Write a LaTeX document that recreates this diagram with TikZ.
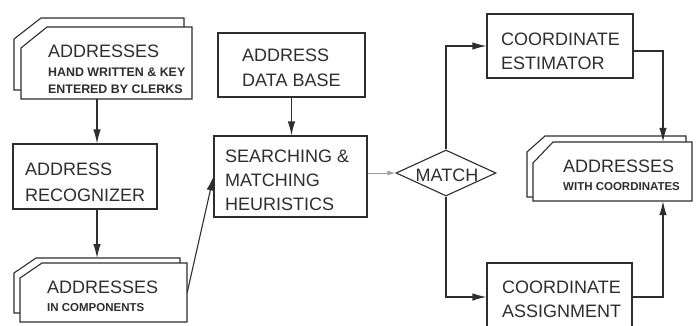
\documentclass[tikz,border=0pt]{standalone}
\usepackage{fontspec}
\setmainfont{Liberation Sans}
\usetikzlibrary{arrows.meta,shapes.geometric}
\definecolor{ink}{gray}{0.18}
\tikzset{
  x=1pt, y=-1pt,
  line/.style={draw=ink, line width=1.1pt},
  arr/.style={line, -{Latex[length=14pt,width=7.5pt]}},
  smallarr/.style={draw=gray!75, line width=1pt, -{Latex[length=8pt,width=5pt]}},
  doc/.style={draw=ink, fill=white, line width=1.1pt, line join=miter},
  box/.style={draw=ink, line width=1.1pt, rectangle, inner sep=0pt},
  ghost/.style={draw=none, rectangle, inner sep=0pt},
  lbl/.style={font=\fontsize{18}{18}\selectfont, inner sep=0pt, anchor=base west, text=ink},
  sub/.style={font=\bfseries\fontsize{11.5}{11.5}\selectfont, inner sep=0pt, anchor=base west, text=ink},
}
\begin{document}
\begin{tikzpicture}
\useasboundingbox (0,0) rectangle (696,325);
\clip (0,0) rectangle (696,325);
\fill[white] (0,0) rectangle (696,325);

% helper coordinates for vertical connectors
\coordinate (x97) at (97,0);
\coordinate (x663) at (663,0);
\coordinate (d2top) at (0,258);

% ---- Doc 1: ADDRESSES hand written
\draw[doc] (41,18) -- (184,18) -- (184,90) -- (14,90) -- (14,39) -- cycle;
\draw[doc] (47,27) -- (192,27) -- (192,99) -- (21,99) -- (21,48) -- cycle;
\node[ghost, minimum width=171, minimum height=72] (d1) at (106.5,63) {};
\node[lbl] (d1t) at (48,57) {ADDRESSES};
\node[sub, font=\bfseries\fontsize{12.4}{12.4}\selectfont] (d1s1) at (48,76) {HAND WRITTEN \& KEY};
\node[sub, font=\bfseries\fontsize{12.4}{12.4}\selectfont] (d1s2) at (48,93) {ENTERED BY CLERKS};

% ---- Address recognizer
\node[box, minimum width=144, minimum height=65] (r) at (85,176.5) {};
\node[lbl] (rt1) at (25,175) {ADDRESS};
\node[lbl] (rt2) at (25,201) {RECOGNIZER};

% ---- Doc 2: ADDRESSES in components
\draw[doc] (36,258) -- (180,258) -- (180,313) -- (14,313) -- (14,273) -- cycle;
\draw[doc] (42,263) -- (187,263) -- (187,322) -- (20,322) -- (20,278) -- cycle;
\node[ghost, minimum width=167, minimum height=59] (d2) at (103.5,292.5) {};
\node[lbl] (d2t) at (47,293) {ADDRESSES};
\node[sub] (d2s) at (47,311) {IN COMPONENTS};

% ---- Address data base
\node[box, minimum width=147, minimum height=64] (db) at (291.5,65) {};
\node[lbl] (dbt1) at (242,61) {ADDRESS};
\node[lbl] (dbt2) at (242,86) {DATA BASE};

% ---- Searching & matching
\node[box, minimum width=153, minimum height=81] (s) at (290.5,176.5) {};
\node[lbl] (st1) at (225,162) {SEARCHING \&};
\node[lbl] (st2) at (225,186) {MATCHING};
\node[lbl] (st3) at (225,210) {HEURISTICS};

% ---- Match diamond
\node[draw=ink, line width=1.1pt, diamond, inner sep=0pt, minimum width=100, minimum height=46] (m) at (446,173) {};
\node[font=\fontsize{18}{18}\selectfont, inner sep=0pt, anchor=base, text=ink] (mt) at (447,181) {MATCH};

% ---- Coordinate estimator
\node[box, minimum width=146, minimum height=64] (e) at (560,46) {};
\node[lbl] (et1) at (501,45) {COORDINATE};
\node[lbl] (et2) at (501,69) {ESTIMATOR};

% ---- Coordinate assignment (runs past the lower edge)
\node[box, minimum width=145, minimum height=68] (a) at (559.5,297) {};
\node[lbl] (at1) at (502,293) {COORDINATE};
\node[lbl] (at2) at (502,317) {ASSIGNMENT};

% ---- Doc 3: ADDRESSES with coordinates
\draw[doc] (545,136) -- (686,136) -- (686,197) -- (527,197) -- (527,152) -- cycle;
\draw[doc] (553,142) -- (692,142) -- (692,201) -- (533,201) -- (533,163) -- cycle;
\node[ghost, minimum width=159, minimum height=59] (d3) at (612.5,171.5) {};
\node[lbl] (d3t) at (563,172) {ADDRESSES};
\node[sub] (d3s) at (563,190) {WITH COORDINATES};

% ---- Connectors
\draw[arr] (d1.south -| x97) -- (r.north -| x97);
\draw[arr] (r.south -| x97) -- (d2top -| x97);
\draw[arr] (d2.east) -- (s.west);
\draw[arr] (db.south) -- (db.south |- s.north);
\draw[smallarr] (s.east |- m.west) -- (m.west);
\draw[arr] (m.north) |- (e.west);
\draw[arr] (m.south) |- (a.west);
\draw[arr] ([yshift=-5pt]e.east) -| (d3.north -| x663);
\draw[arr] (a.east) -| (d3.south -| x663);
\end{tikzpicture}
\end{document}
